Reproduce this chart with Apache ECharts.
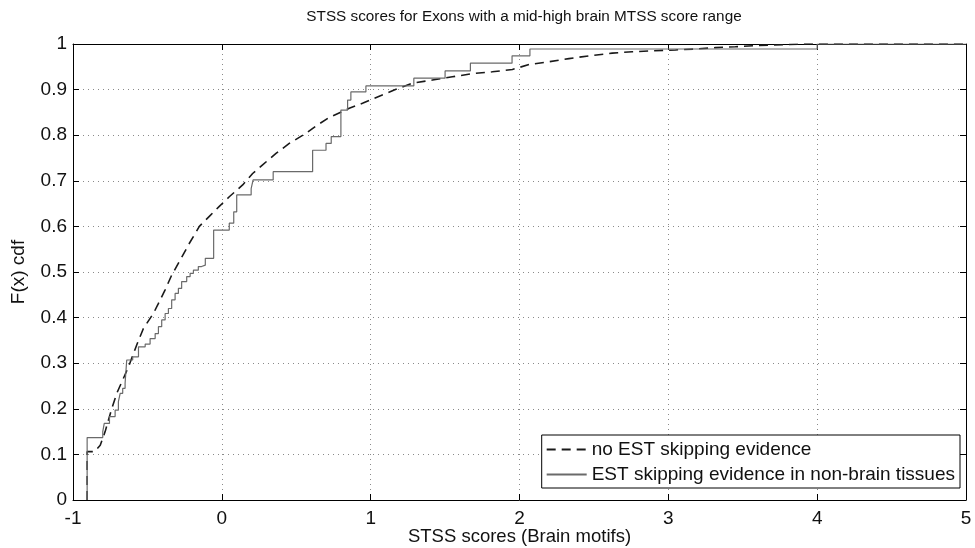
<!DOCTYPE html>
<html>
<head>
<meta charset="utf-8">
<script src="https://cdn.jsdelivr.net/npm/echarts@6/dist/echarts.min.js"></script>
<style>
  html, body { margin: 0; padding: 0; background: #fff; }
  #chart { width: 975px; height: 548px; }
</style>
</head>
<body>
<div id="chart"></div>
<script>
// Empirical CDF of STSS scores, exons without EST skipping evidence (dense sample)
const noSkipX = [-0.905, -0.905, -0.856, -0.817, -0.784, -0.74, -0.706, -0.661, -0.627, -0.572, -0.527, -0.46, -0.426, -0.381, -0.337, -0.28, -0.218, -0.151, -0.084, -0.017, 0.05, 0.14, 0.207, 0.274, 0.364, 0.453, 0.565, 0.632, 0.722, 0.856, 0.945, 1.046, 1.158, 1.28, 1.415, 1.549, 1.683, 1.817, 1.952, 2.064, 2.198, 2.332, 2.466, 2.623, 2.757, 2.891, 3.048, 3.18, 3.317, 3.45, 3.61, 3.95, 5.0];
const noSkipF = [0, 0.106, 0.106, 0.12, 0.15, 0.2, 0.234, 0.267, 0.292, 0.34, 0.376, 0.409, 0.431, 0.461, 0.493, 0.526, 0.563, 0.6, 0.622, 0.644, 0.665, 0.691, 0.716, 0.735, 0.76, 0.782, 0.804, 0.82, 0.839, 0.859, 0.87, 0.884, 0.899, 0.914, 0.921, 0.928, 0.935, 0.939, 0.944, 0.955, 0.961, 0.968, 0.974, 0.98, 0.983, 0.985, 0.987, 0.989, 0.992, 0.994, 0.997, 1.0, 1.0];

// Empirical CDF (step) for exons with EST skipping evidence in non-brain tissues
const skipX = [-0.905, -0.905, -0.80, -0.79, -0.755, -0.717, -0.695, -0.683, -0.666, -0.65, -0.639, -0.599, -0.56, -0.515, -0.482, -0.448, -0.426, -0.404, -0.381, -0.359, -0.337, -0.314, -0.292, -0.27, -0.236, -0.213, -0.191, -0.158, -0.136, -0.111, -0.055, 0.05, 0.08, 0.10, 0.197, 0.21, 0.345, 0.61, 0.70, 0.735, 0.80, 0.845, 0.867, 0.968, 1.29, 1.50, 1.67, 1.95, 2.07, 4.0, 5.0];
const skipF = [0, 0.137, 0.150, 0.168, 0.183, 0.197, 0.216, 0.234, 0.245, 0.256, 0.307, 0.314, 0.336, 0.342, 0.354, 0.365, 0.38, 0.395, 0.409, 0.42, 0.439, 0.453, 0.464, 0.479, 0.49, 0.497, 0.504, 0.512, 0.515, 0.53, 0.592, 0.607, 0.632, 0.669, 0.683, 0.702, 0.72, 0.767, 0.782, 0.797, 0.855, 0.877, 0.895, 0.908, 0.925, 0.941, 0.958, 0.974, 0.989, 1.0, 1.0];

const xTicks = [-1, 0, 1, 2, 3, 4, 5];
const yTicks = [0, 0.1, 0.2, 0.3, 0.4, 0.5, 0.6, 0.7, 0.8, 0.9, 1];

const seriesNames = ['no EST skipping evidence', 'EST skipping evidence in non-brain tissues'];
const titleText = 'STSS scores for Exons with a mid-high brain MTSS score range';
const xName = 'STSS scores (Brain motifs)';
const yName = 'F(x) cdf';

const pairs = (xs, ys) => xs.map((x, i) => [x, ys[i]]);
const FONT = 'Liberation Sans, Arial, Helvetica, sans-serif';

const chart = echarts.init(document.getElementById('chart'), null, { renderer: 'canvas' });

const gridLine = { show: true, lineStyle: { color: '#8a8a8a', width: 1, type: [1, 4] } };
const baseAxisLine = { show: true, onZero: false, lineStyle: { color: '#000', width: 1 } };
const tickIn = { show: true, inside: true, length: 6, lineStyle: { color: '#000', width: 1 } };

chart.setOption({
  animation: false,
  backgroundColor: '#fff',
  title: {
    text: titleText,
    left: 519, top: 4, textAlign: 'center',
    textStyle: { fontFamily: FONT, fontSize: 15.3, fontWeight: 'normal', color: '#111' }
  },
  grid: { left: 73, right: 9, top: 44, bottom: 48, containLabel: false, outerBoundsMode: 'none' },
  legend: {
    orient: 'vertical',
    right: 15, bottom: 60,
    backgroundColor: '#fff',
    borderColor: '#000', borderWidth: 1,
    padding: [5, 5, 4, 4],
    itemGap: 6,
    itemWidth: 40, itemHeight: 14,
    itemStyle: { opacity: 0 },
    textStyle: { fontFamily: FONT, fontSize: 19, color: '#111' },
    data: seriesNames
  },
  xAxis: [
    {
      type: 'value', min: -1, max: 5, interval: 1, position: 'bottom',
      name: xName, nameLocation: 'middle', nameGap: 27, nameMoveOverlap: false,
      nameTextStyle: { fontFamily: FONT, fontSize: 18.5, color: '#111' },
      axisLine: baseAxisLine, axisTick: tickIn, splitLine: gridLine,
      axisLabel: { fontFamily: FONT, fontSize: 19, color: '#111', margin: 9 }
    },
    {
      type: 'value', min: -1, max: 5, interval: 1, position: 'top',
      axisLine: baseAxisLine, axisTick: tickIn, splitLine: { show: false },
      axisLabel: { show: false }
    }
  ],
  yAxis: [
    {
      type: 'value', min: 0, max: 1, interval: 0.1, position: 'left',
      name: yName, nameLocation: 'middle', nameGap: 45, nameMoveOverlap: false,
      nameTextStyle: { fontFamily: FONT, fontSize: 19, color: '#111' },
      axisLine: baseAxisLine, axisTick: tickIn, splitLine: gridLine,
      axisLabel: {
        fontFamily: FONT, fontSize: 19, color: '#111', margin: 6,
        formatter: v => String(+v.toFixed(1))
      }
    },
    {
      type: 'value', min: 0, max: 1, interval: 0.1, position: 'right',
      axisLine: baseAxisLine, axisTick: tickIn, splitLine: { show: false },
      axisLabel: { show: false }
    }
  ],
  series: [
    {
      name: seriesNames[0], type: 'line',
      data: pairs(noSkipX, noSkipF),
      symbol: 'none', smooth: false, z: 3,
      itemStyle: { color: '#1a1a1a' },
      lineStyle: { color: '#1a1a1a', width: 1.6, type: [9, 6] }
    },
    {
      name: seriesNames[1], type: 'line', step: 'end',
      data: pairs(skipX, skipF),
      symbol: 'none', z: 4,
      itemStyle: { color: '#6a6a6a' },
      lineStyle: { color: '#6a6a6a', width: 1.2, type: 'solid' }
    }
  ]
});
</script>
</body>
</html>
